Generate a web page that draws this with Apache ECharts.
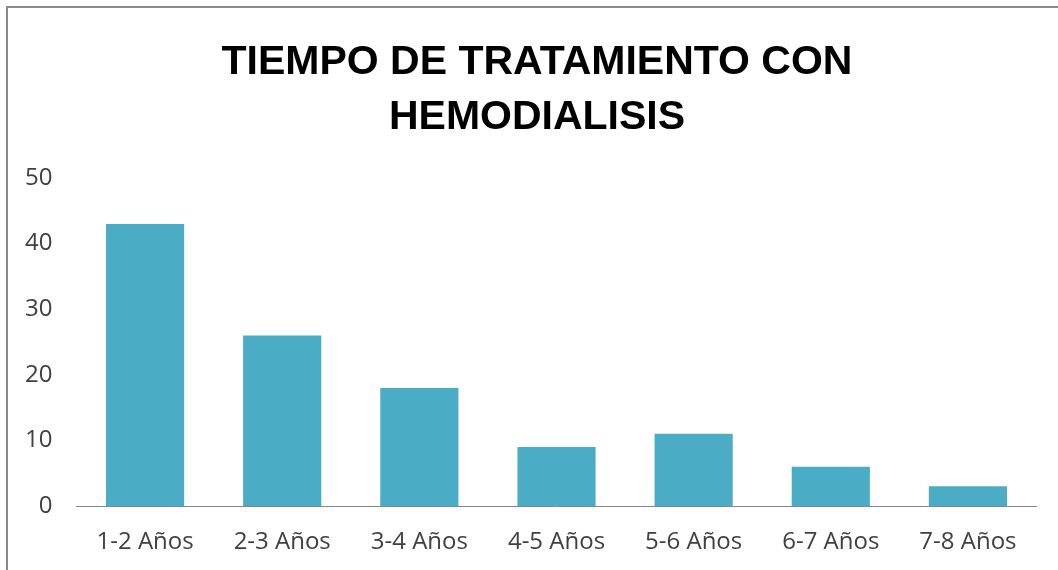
<!DOCTYPE html>
<html><head><meta charset="utf-8">
<script src="https://cdn.jsdelivr.net/npm/echarts@6/dist/echarts.min.js"></script>
<style>html,body{margin:0;padding:0;background:#fff}#c{width:1058px;height:570px}</style>
</head><body><div id="c"></div>
<script>
const categories = ['1-2 Años','2-3 Años','3-4 Años','4-5 Años','5-6 Años','6-7 Años','7-8 Años'];
const values = [43, 26, 18, 9, 11, 6, 3];
const yTicks = [0, 10, 20, 30, 40, 50];
const titleText = 'TIEMPO DE TRATAMIENTO CON\nHEMODIALISIS';

const chart = echarts.init(document.getElementById('c'), null, {renderer:'canvas'});
chart.setOption({
  animation:false,
  backgroundColor:'#fff',
  graphic:[{type:'rect',shape:{x:7,y:7,width:1100,height:600},style:{fill:'none',stroke:'#898989',lineWidth:2},z:-1}],
  title:{text:titleText,left:532,top:30,textAlign:'center',
    textStyle:{fontFamily:'Liberation Sans',fontWeight:'bold',fontSize:41,lineHeight:55,color:'#000'}},
  grid:{left:76.5,right:21.5,top:178,bottom:64,containLabel:false},
  xAxis:{type:'category',data:categories,
    axisLine:{lineStyle:{color:'#868686',width:1}},axisTick:{show:false},
    axisLabel:{margin:24,fontSize:24,color:'#404040',fontFamily:'Open Sans, Liberation Sans'}},
  yAxis:{type:'value',min:yTicks[0],max:yTicks[yTicks.length-1],interval:10,
    axisLine:{show:false},axisTick:{show:false},splitLine:{show:false},
    axisLabel:{margin:24,fontSize:24,color:'#404040',fontFamily:'Open Sans, Liberation Sans'}},
  series:[{type:'bar',data:values,barWidth:'57%',itemStyle:{color:'#4BACC6'}}]
});
</script></body></html>
